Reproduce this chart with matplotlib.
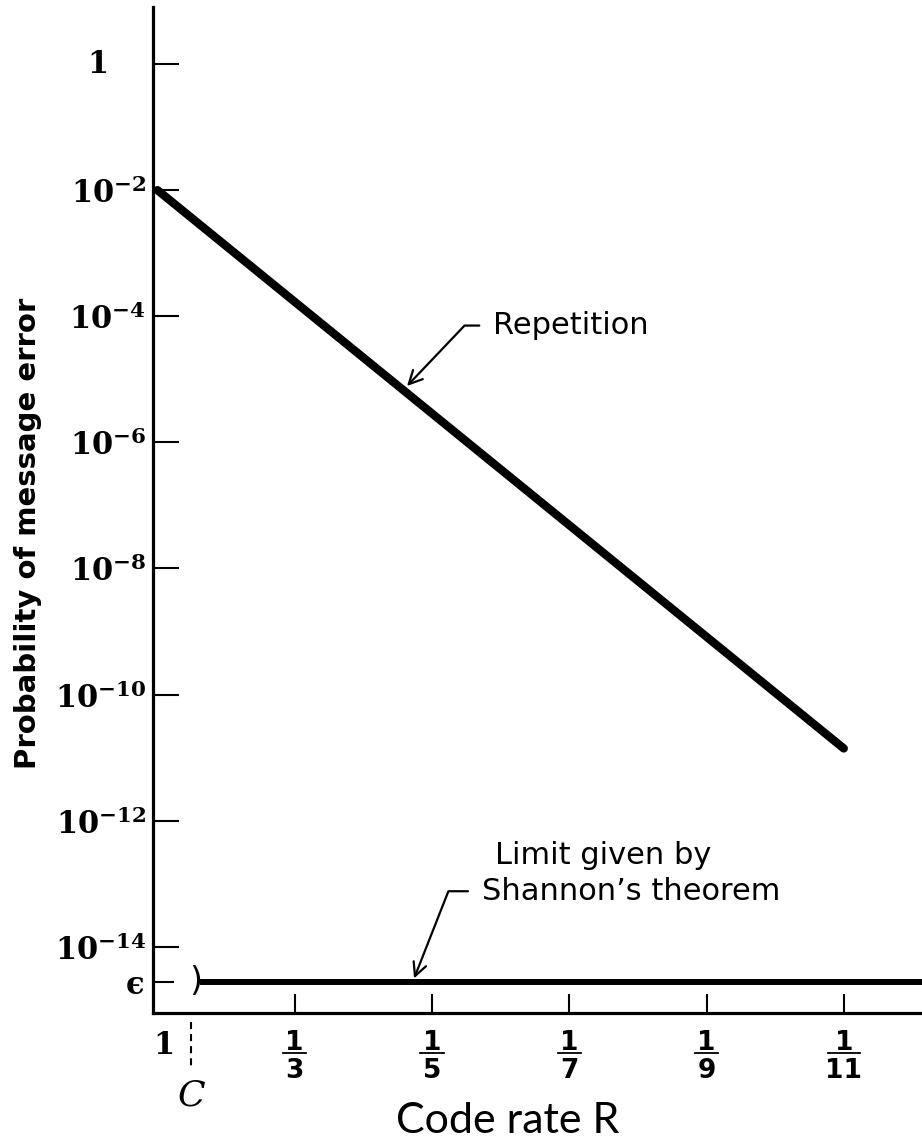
import numpy as np
import matplotlib.pyplot as plt
import matplotlib.transforms as mtransforms

plt.rcParams["font.family"] = ["DejaVu Sans"]

# -----------------------------
# Data (x axis is 1/R, the repetition count)
# -----------------------------
rate_denoms = [3, 5, 7, 9, 11]

rep_denoms = [1, 11]
rep_error = [1e-2, 1.4e-11]

capacity_denom = 1.49      # where C sits on the 1/R axis
shannon_eps = 2.8e-15
shannon_end = 12.5

ytick_exps = [-2, -4, -6, -8, -10, -12, -14]
ytick_labels = [r"$\mathbf{10^{%d}}$" % e for e in ytick_exps]

# -----------------------------
# Figure
# -----------------------------
fig = plt.figure(figsize=(9.22, 11.39), dpi=100)
ax = fig.add_axes([0.1659, 0.1106, 0.8341, 0.8832])
ax.set_yscale("log")
ax.set_xlim(0.934, 12.14)
ax.set_ylim(10 ** -15.05, 10 ** 0.904)

for s in ["top", "right"]:
    ax.spines[s].set_visible(False)
for s in ["left", "bottom"]:
    ax.spines[s].set_linewidth(2.3)

# curves
ax.plot(rep_denoms, rep_error, color="black", lw=6, solid_capstyle="round")
ax.plot([capacity_denom + 0.13, shannon_end], [shannon_eps, shannon_eps],
        color="black", lw=4.3, solid_capstyle="butt")
ax.text(capacity_denom - 0.02, shannon_eps, ")", ha="left", va="center",
        fontsize=24, color="black")

# y ticks (1 gets its own label, placed further left as in the original)
ax.set_yticks([1.0] + [10.0 ** e for e in ytick_exps],
              labels=[""] + ytick_labels)
ax.set_yticks([shannon_eps], labels=["\u03f5"], minor=True)
ax.tick_params(axis="y", which="major", direction="in", length=19,
               width=1.5, pad=5, labelsize=22)
ax.tick_params(axis="y", which="minor", direction="in", length=15,
               width=1.5, pad=6, labelsize=22)
for lab in ax.get_yticklabels():
    lab.set_math_fontfamily("dejavuserif")
for lab in ax.get_yticklabels(minor=True):
    lab.set_fontfamily(["DejaVu Serif", "DejaVu Sans"])
    lab.set_fontweight("bold")
ax.annotate(r"$\mathbf{1}$", xy=(0, 1.0), xycoords=ax.get_yaxis_transform(),
            xytext=(-40, 0), textcoords="offset points", ha="center",
            va="center", fontsize=22, math_fontfamily="dejavuserif")

# x ticks, labels drawn as stacked fractions
ax.set_xticks(rate_denoms, labels=[""] * len(rate_denoms))
ax.tick_params(axis="x", which="major", direction="in", length=14,
               width=1.5, labelsize=1)
xt = ax.get_xaxis_transform()
bar_tr = mtransforms.offset_copy(xt, fig=fig, y=-28.8, units="points")
for d in rate_denoms:
    ax.annotate("1", xy=(d, 0), xycoords=xt, xytext=(0, -26.4),
                textcoords="offset points", ha="center", va="baseline",
                fontsize=19, fontweight="bold")
    ax.annotate(str(d), xy=(d, 0), xycoords=xt, xytext=(0, -46.5),
                textcoords="offset points", ha="center", va="baseline",
                fontsize=19, fontweight="bold")
    half = 0.17 if d < 10 else 0.23
    ax.plot([d - half, d + half], [0, 0], transform=bar_tr, color="black",
            lw=1.3, clip_on=False)
ax.annotate(r"$\mathbf{1}$", xy=(1, 0), xycoords=xt,
            xytext=(4, -13), textcoords="offset points", ha="center",
            va="top", fontsize=22, math_fontfamily="dejavuserif")

# capacity marker below the axis
trans = mtransforms.blended_transform_factory(ax.transData, ax.transAxes)
ax.plot([capacity_denom, capacity_denom], [-0.009, -0.057], transform=trans,
        ls=(0, (3.4, 2.4)), color="black", lw=1.5, clip_on=False)
ax.text(capacity_denom, -0.0815, r"$C$", transform=trans, ha="center",
        va="center", fontsize=26, math_fontfamily="dejavuserif")

# annotations
rep_tip_x = 4.58
rep_tip_y = 10 ** np.interp(rep_tip_x, rep_denoms, np.log10(rep_error))
ax.annotate(
    "Repetition", xy=(rep_tip_x, rep_tip_y), xytext=(64.8, 40.3),
    textcoords="offset points", ha="left", va="baseline", fontsize=22,
    arrowprops=dict(arrowstyle="->", lw=1.6, color="black",
                    connectionstyle="angle,angleA=0,angleB=46.4,rad=0",
                    relpos=(0, 0.5), shrinkA=8, shrinkB=4, mutation_scale=24),
)

sh_tip_x = 4.72
ax.annotate(
    "Shannon\u2019s theorem", xy=(sh_tip_x, shannon_eps), xytext=(49.7, 59.0),
    textcoords="offset points", ha="left", va="baseline", fontsize=22,
    arrowprops=dict(arrowstyle="->", lw=1.6, color="black",
                    connectionstyle="angle,angleA=0,angleB=68.5,rad=0",
                    relpos=(0, 0.5), shrinkA=8, shrinkB=2.5, mutation_scale=24),
)
ax.annotate("Limit given by", xy=(sh_tip_x, shannon_eps), xytext=(59, 85),
            textcoords="offset points", ha="left", va="baseline", fontsize=22)

# axis titles
fig.text(0.030, 0.532, "Probability of message error", rotation=90,
         ha="center", va="center", fontsize=21, fontweight="bold")
fig.text(0.551, 0.0053, "Code rate R", ha="center", va="baseline",
         fontsize=31, family="Lato")

fig.savefig("out.png", dpi=100)
